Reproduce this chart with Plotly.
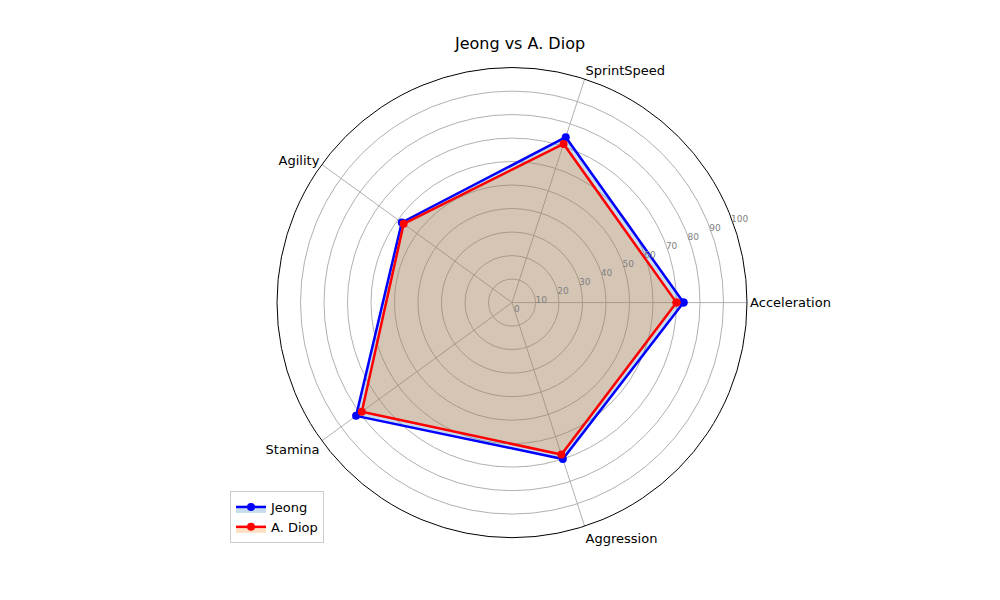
import plotly.graph_objects as go

categories = ["Acceleration", "SprintSpeed", "Agility", "Stamina", "Aggression"]
jeong = [73, 74, 58, 82, 70]
diop = [70, 71, 57, 79, 68]
radial_ticks = [0, 10, 20, 30, 40, 50, 60, 70, 80, 90, 100]

cats = categories + categories[:1]

fig = go.Figure()
fig.add_trace(go.Scatterpolar(
    r=jeong + jeong[:1], theta=cats, name="Jeong", mode="lines+markers",
    line=dict(color="blue", width=2.5), marker=dict(size=8, color="blue"),
    fill="toself", fillcolor="rgba(31,119,180,0.25)"))
fig.add_trace(go.Scatterpolar(
    r=diop + diop[:1], theta=cats, name="A. Diop", mode="lines+markers",
    line=dict(color="red", width=2.5), marker=dict(size=8, color="red"),
    fill="toself", fillcolor="rgba(255,127,14,0.25)"))

fig.update_layout(
    width=1000, height=600,
    paper_bgcolor="white",
    margin=dict(l=0, r=0, t=0, b=0),
    font=dict(family="DejaVu Sans", color="black"),
    title=dict(text="Jeong vs A. Diop", x=0.512, y=0.95, xanchor="center",
               font=dict(size=16, color="black")),
    polar=dict(
        domain=dict(x=[0.269, 0.739], y=[0.1165, 0.9015]),
        bgcolor="white",
        angularaxis=dict(rotation=0, direction="counterclockwise",
                         gridcolor="#b0b0b0", linecolor="black", linewidth=1,
                         showline=True, ticks="", tickfont=dict(size=13, color="black")),
        radialaxis=dict(range=[0, 100], tickvals=radial_ticks, angle=22.5,
                        tickangle=22.5, gridcolor="#b0b0b0", showline=False,
                        ticks="", tickfont=dict(size=9, color="gray")),
    ),
    legend=dict(x=0.222, y=0.195, xanchor="left", yanchor="top",
                bordercolor="#cccccc", borderwidth=1, bgcolor="white",
                font=dict(size=13)),
)

fig.write_html("out.html")
